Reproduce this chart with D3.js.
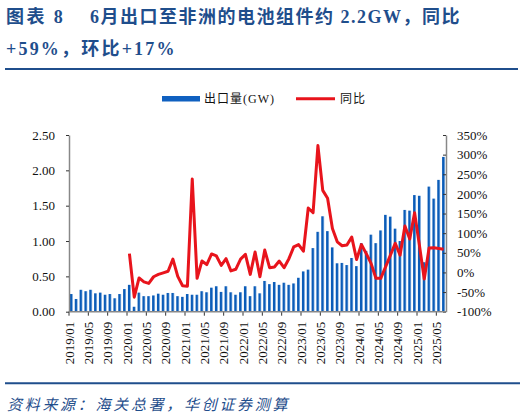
<html>
<head>
<meta charset="utf-8">
<script src="https://d3js.org/d3.v7.min.js"></script>
<style>
  body { margin: 0; background: #fff; }
</style>
</head>
<body>
<script>

// 2019/01 .. 2025/06
let months = [];
for (let yr = 2019; yr <= 2025; yr++) {
  for (let m = 1; m <= 12; m++) {
    if (yr == 2025 && m > 6) break;
    months.push(yr + "/" + (m < 10 ? "0" + m : m));
  }
}

let tickLabels = ["2019/01","2019/05","2019/09","2020/01","2020/05","2020/09",
  "2021/01","2021/05","2021/09","2022/01","2022/05","2022/09","2023/01","2023/05",
  "2023/09","2024/01","2024/05","2024/09","2025/01","2025/05"];

// export volume, GW
let exportGW = [
  0.25, 0.18, 0.31, 0.29, 0.31, 0.26, 0.27, 0.24, 0.25, 0.19, 0.25, 0.32,
  0.38, 0.07, 0.27, 0.22, 0.22, 0.23, 0.255, 0.24, 0.265, 0.265, 0.22, 0.21,
  0.25, 0.24, 0.24, 0.29, 0.275, 0.34, 0.36, 0.28, 0.36, 0.275, 0.24, 0.275,
  0.36, 0.22, 0.36, 0.26, 0.435, 0.39, 0.42, 0.38, 0.41, 0.38, 0.40, 0.48,
  0.57, 0.595, 0.90, 1.13, 1.35, 1.14, 0.91, 0.685, 0.69, 0.66, 0.76, 0.645,
  0.97, 0.86, 1.09, 0.97, 1.15, 1.37, 1.345, 1.175, 1.00, 1.44, 1.43, 1.65,
  1.64, 0.70, 1.77, 1.60, 1.865, 2.19
];

// YoY %, no values for 2019
let yoy = [
  null, null, null, null, null, null, null, null, null, null, null, null,
  48, -63, -14, -24, -28, -11, -5, -1, 3, 34, -10, -34,
  -35, 238, -15, 29, 20, 47, 42, 18, 35, 4, 8, 34,
  46, -5, 52, -11, 57, 12, 14, 29, 12, 35, 65, 71,
  54, 164, 152, 323, 209, 189, 112, 78, 68, 70, 90, 33,
  71, 48, 23, -15, -15, 14, 44, 74, 44, 118, 85, 152,
  69, -17, 62, 63, 61, 59
];

let leftTicks = [0, 0.5, 1.0, 1.5, 2.0, 2.5];
let rightTicks = [-100, -50, 0, 50, 100, 150, 200, 250, 300, 350];

let canvasW = 524;
let canvasH = 418;
let plotL = 69, plotR = 446, plotT = 135, plotB = 311.7;

let titleBlue = "#1f4e8c";
let barBlue = "#0b5cb8";
let lineRed = "#e8141c";
let serif = "'Liberation Serif', 'Times New Roman', 'Noto Sans CJK SC', serif";
let cjk = "'Liberation Serif', 'Noto Sans CJK SC', sans-serif";

let data = months.map((m, i) => ({ month: m, gw: exportGW[i], yoy: yoy[i] }));

let svg = d3.select("body").append("svg")
  .attr("width", canvasW)
  .attr("height", canvasH);

let grad = svg.append("defs").append("linearGradient")
  .attr("id", "barGrad")
  .attr("x1", "0%").attr("x2", "100%").attr("y1", "0%").attr("y2", "0%");
grad.append("stop").attr("offset", "0%").attr("stop-color", barBlue);
grad.append("stop").attr("offset", "55%").attr("stop-color", barBlue);
grad.append("stop").attr("offset", "100%").attr("stop-color", "#a9c9ec");

// title
let title = svg.append("g")
  .attr("font-family", cjk)
  .attr("font-weight", "bold")
  .attr("font-size", "18px")
  .attr("fill", titleBlue);
title.append("text").attr("x", 6).attr("y", 23)
  .attr("letter-spacing", "2.4px")
  .text("图表 8");
title.append("text").attr("x", 90).attr("y", 23)
  .attr("letter-spacing", "1.5px")
  .text("6月出口至非洲的电池组件约 2.2GW，同比");
title.append("text").attr("x", 6).attr("y", 55)
  .attr("letter-spacing", "2.2px")
  .text("+59%，环比+17%");

svg.append("line")
  .attr("x1", 5).attr("x2", 518).attr("y1", 69).attr("y2", 69)
  .attr("stroke", titleBlue).attr("stroke-width", 2);

// scales
let xs = d3.scaleBand().domain(months).range([plotL, plotR]);
let xb = d3.scaleBand().domain(months).range([plotL, plotR])
  .paddingInner(0.38).paddingOuter(0.19);
let y = d3.scaleLinear().domain([0, 2.5]).range([plotB, plotT]);
let y2 = d3.scaleLinear().domain([-100, 350]).range([plotB, plotT]);

// bars
svg.append("g").selectAll("rect")
  .data(data)
  .enter()
  .append("rect")
  .attr("x", d => xb(d.month))
  .attr("width", xb.bandwidth())
  .attr("y", d => y(d.gw))
  .attr("height", d => y(0) - y(d.gw))
  .attr("fill", "url(#barGrad)");

// yoy line
let line = d3.line()
  .defined(d => d.yoy != null)
  .x(d => xs(d.month) + xs.bandwidth() / 2)
  .y(d => y2(d.yoy));

svg.append("path")
  .datum(data)
  .attr("d", line)
  .attr("fill", "none")
  .attr("stroke", lineRed)
  .attr("stroke-width", 3)
  .attr("stroke-linejoin", "round");

// axes
let axisColor = "#888";

let yAxis = svg.append("g")
  .attr("transform", `translate(${plotL},0)`)
  .call(d3.axisLeft(y).tickValues(leftTicks).tickFormat(d3.format(".2f"))
    .tickSize(3).tickSizeOuter(0).tickPadding(11));

let y2Axis = svg.append("g")
  .attr("transform", `translate(${plotR},0)`)
  .call(d3.axisRight(y2).tickValues(rightTicks).tickFormat(d => d + "%")
    .tickSize(-3).tickSizeOuter(0).tickPadding(11));

let xAxis = svg.append("g")
  .attr("transform", `translate(${-xs.bandwidth() / 2},${plotB})`)
  .call(d3.axisBottom(xs).tickValues(tickLabels).tickSize(4).tickSizeOuter(0));
xAxis.select(".domain").remove();
xAxis.selectAll("text")
  .attr("transform", "rotate(-90)")
  .attr("x", -10)
  .attr("y", 0)
  .attr("dy", "0.35em")
  .attr("text-anchor", "end");

svg.append("line")
  .attr("x1", plotL).attr("x2", plotR).attr("y1", plotB).attr("y2", plotB)
  .attr("stroke", axisColor).attr("stroke-width", 1.5);

[yAxis, y2Axis, xAxis].forEach(g => {
  g.selectAll(".domain").attr("stroke", axisColor).attr("stroke-width", 1.5);
  g.selectAll(".tick line").attr("stroke", "#333");
  g.selectAll("text")
    .attr("font-family", serif)
    .attr("font-size", "13px")
    .attr("fill", "#111");
});

// legend
let legend = svg.append("g")
  .attr("font-family", cjk)
  .attr("font-size", "12px")
  .attr("fill", "#111");
legend.append("rect")
  .attr("x", 162).attr("y", 96).attr("width", 38).attr("height", 5.5)
  .attr("fill", "#0f60c0");
legend.append("text").attr("x", 204).attr("y", 103)
  .attr("letter-spacing", "1px").text("出口量(GW)");
legend.append("line")
  .attr("x1", 296).attr("x2", 335).attr("y1", 98.7).attr("y2", 98.7)
  .attr("stroke", lineRed).attr("stroke-width", 3);
legend.append("text").attr("x", 340).attr("y", 103)
  .attr("letter-spacing", "1px").text("同比");

// footer
svg.append("line")
  .attr("x1", 5).attr("x2", 520).attr("y1", 383.3).attr("y2", 383.3)
  .attr("stroke", titleBlue).attr("stroke-width", 2);

svg.append("text")
  .attr("x", 7).attr("y", 410)
  .attr("font-family", cjk)
  .attr("font-size", "15px")
  .attr("font-style", "italic")
  .attr("fill", titleBlue)
  .attr("letter-spacing", "2.7px")
  .text("资料来源：海关总署，华创证券测算");

</script>
</body>
</html>
